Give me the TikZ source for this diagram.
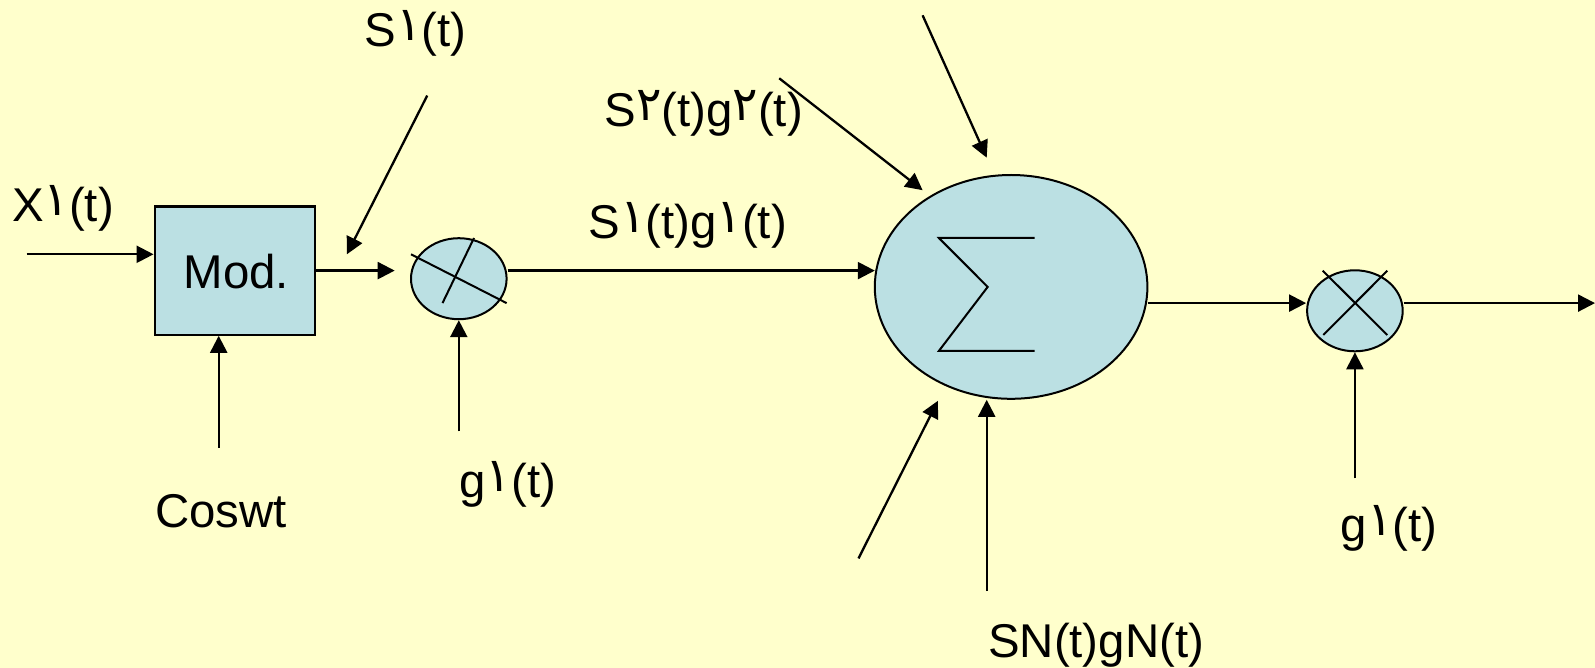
\documentclass[tikz,border=0pt]{standalone}
\usepackage{fontspec}
\usepackage{xcolor}
\setmainfont{Liberation Sans}
\newfontfamily\arabicfont[Script=Arabic]{DejaVu Sans}
\TeXXeTstate=1
\usetikzlibrary{arrows.meta,shapes.geometric}
\definecolor{slidebg}{HTML}{FFFFCC}
\definecolor{blockfill}{HTML}{BBE0E3}
\newcommand{\digit}[1]{\makebox[12.7pt]{\raisebox{3pt}{\arabicfont\beginR #1\endR}}}
\tikzset{
 modbox/.style={draw,line width=1.1pt,fill=blockfill,rectangle,inner sep=0,minimum width=160.7*0.5pt,minimum height=128.2*0.5pt},
 mixer/.style={draw,line width=1pt,fill=blockfill,ellipse,inner sep=0,minimum width=95.6*0.5pt,minimum height=81*0.5pt},
 summer/.style={draw,line width=1pt,fill=blockfill,ellipse,inner sep=0,minimum width=272.6*0.5pt,minimum height=223.8*0.5pt},
 lbl/.style={anchor=base west,inner sep=0,font=\fontsize{23.7pt}{28pt}\selectfont}
}
\begin{document}
\begin{tikzpicture}[x=0.5pt,y=-0.5pt,>={Triangle[length=8.5pt,width=8.5pt]},line width=1.15pt]
\fill[slidebg](0,0)rectangle(1595,668);
\useasboundingbox(0,0)rectangle(1595,668);
% blocks
\node[modbox](mod)at(235,270.6){};
\node[mixer](mixa)at(458.8,278.7){};
\node[summer](sum)at(1011.1,286.9){};
\node[mixer](mixb)at(1354.9,310.8){};
% free ends
\coordinate(xin)at(26.5,254.3);
\coordinate(cosin)at(218.7,447.6);
\coordinate(modout)at(394.7,270.6);
\coordinate(sonefrom)at(427.2,95.6);
\coordinate(soneto)at(346.9,254.3);
\coordinate(gain)at(458.8,431.3);
\coordinate(sumin)at(874.8,270.6);
\coordinate(stwofrom)at(779.2,78.3);
\coordinate(stwoto)at(922.6,190.2);
\coordinate(topfrom)at(922.6,15.3);
\coordinate(topto)at(986.7,157.7);
\coordinate(lowfrom)at(858.5,558.4);
\coordinate(lowto)at(937.9,400.8);
\coordinate(snfrom)at(986.7,591);
\coordinate(outend)at(1595,303.1);
\coordinate(gbin)at(1354.9,478.3);
% connectors
\draw[->](xin)--(xin-|mod.west);
\draw[->](cosin)--(cosin|-mod.south);
\draw[->](mod.east)--(modout);
\draw[->](sonefrom)--(soneto);
\draw[->](gain)--(mixa.south);
\draw[->](mixa.east|-sumin)--(sumin);
\draw[->](stwofrom)--(stwoto);
\draw[->](topfrom)--(topto);
\draw[->](lowfrom)--(lowto);
\draw[->](snfrom)--(snfrom|-sum.south);
\draw[->](sum.east|-outend)--(mixb.west|-outend);
\draw[->](mixb.east|-outend)--(outend);
\draw[->](gbin)--(mixb.south);
% marks inside the circles
\draw[line width=1pt](411,254.3)--(506.6,303.1);
\draw[line width=1pt](474,238)--(442.5,303.1);
\draw[line width=1pt](1322.7,270.7)--(1387.3,335);
\draw[line width=1pt](1387.3,270.7)--(1323.3,335);
\draw[line width=1pt](1034.5,238)--(938.9,238)--(987.7,286.9)--(938.9,350.9)--(1034.5,350.9);
% labels
\node[lbl](xlbl)at(11,222){X\digit{۱}(t)};
\node[lbl](slbl)at(363.5,46.7){S\digit{۱}(t)};
\node[lbl](modlbl)at(182.5,288){Mod.};
\node[lbl](coslbl)at(154,527){Coswt};
\node[lbl](galbl)at(458.5,497){g\digit{۱}(t)};
\node[lbl](sgone)at(587.5,238.3){S\digit{۱}(t)g\digit{۱}(t)};
\node[lbl](sgtwo)at(603.5,126.7){S\digit{۲}(t)g\digit{۲}(t)};
\node[lbl](sgn)at(987,657){SN(t)gN(t)};
\node[lbl](gblbl)at(1339.5,541.7){g\digit{۱}(t)};
\end{tikzpicture}
\end{document}
